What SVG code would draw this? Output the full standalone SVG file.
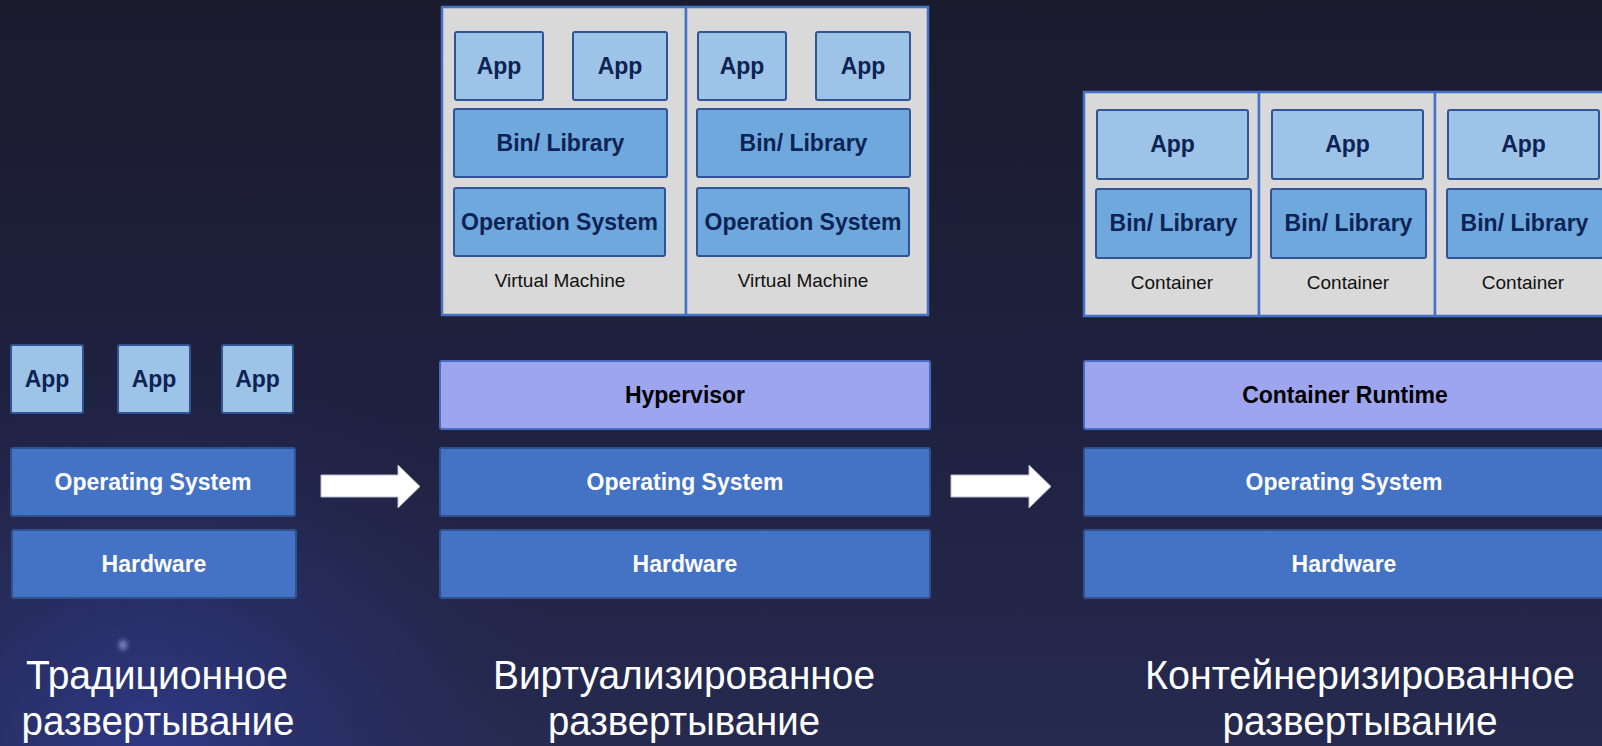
<svg xmlns="http://www.w3.org/2000/svg" width="1602" height="746" viewBox="0 0 1602 746">
  <defs>
    <linearGradient id="bg" x1="0" y1="0" x2="0" y2="1">
      <stop offset="0" stop-color="#1a1b2d"/>
      <stop offset="0.55" stop-color="#1f2140"/>
      <stop offset="1" stop-color="#262a50"/>
    </linearGradient>
    <radialGradient id="glow" cx="150" cy="760" r="420" gradientUnits="userSpaceOnUse">
      <stop offset="0" stop-color="#2f3a8a" stop-opacity="0.95"/>
      <stop offset="0.5" stop-color="#2a3272" stop-opacity="0.5"/>
      <stop offset="1" stop-color="#262a50" stop-opacity="0"/>
    </radialGradient>
    <filter id="blur" x="-2" y="-2" width="5" height="5">
      <feGaussianBlur stdDeviation="2.5"/>
    </filter>
    <style>
      .app { fill: #9dc3e6; stroke: #2f5597; stroke-width: 2; }
      .mid { fill: #6fa8dc; stroke: #2f5597; stroke-width: 2; }
      .base { fill: #4472c4; stroke: #2f528f; stroke-width: 2; }
      .rt { fill: #9da5ee; stroke: #4a69c0; stroke-width: 2; }
      .panel { fill: #d9d9d9; stroke: #4472c4; stroke-width: 2.5; }
      .lbl { font-family: "Liberation Sans", Arial, sans-serif; font-weight: bold; font-size: 23px; text-anchor: middle; }
      .dark { fill: #0d2354; }
      .white { fill: #ffffff; }
      .black { fill: #000000; }
      .small { font-family: "Liberation Sans", Arial, sans-serif; font-size: 19px; fill: #111111; text-anchor: middle; }
      .cap { font-family: "Liberation Sans", Arial, sans-serif; font-size: 40px; fill: #ffffff; text-anchor: middle; }
      .arrow { fill: #ffffff; stroke: #b9bccb; stroke-width: 1; }
    </style>
  </defs>

  <rect x="0" y="0" width="1602" height="746" fill="url(#bg)"/>
  <rect x="0" y="0" width="1602" height="746" fill="url(#glow)"/>
  <ellipse cx="123" cy="645" rx="4" ry="5" fill="#9aa0d8" opacity="0.8" filter="url(#blur)"/>

  <!-- Traditional deployment -->
  <g id="trad-app1"><rect class="app" x="11" y="345" width="72" height="68" rx="2"/><text class="lbl dark" x="47" y="387">App</text></g>
  <g id="trad-app2"><rect class="app" x="118" y="345" width="72" height="68" rx="2"/><text class="lbl dark" x="154" y="387">App</text></g>
  <g id="trad-app3"><rect class="app" x="222" y="345" width="71" height="68" rx="2"/><text class="lbl dark" x="257.5" y="387">App</text></g>
  <g id="trad-os"><rect class="base" x="11" y="448" width="284" height="68" rx="2"/><text class="lbl white" x="153" y="490">Operating System</text></g>
  <g id="trad-hw"><rect class="base" x="12" y="530" width="284" height="68" rx="2"/><text class="lbl white" x="154" y="572">Hardware</text></g>
  <g id="trad-caption">
    <text class="cap" x="157" y="689" textLength="262" lengthAdjust="spacingAndGlyphs">Традиционное</text>
    <text class="cap" x="158" y="735" textLength="273" lengthAdjust="spacingAndGlyphs">развертывание</text>
  </g>

  <!-- Virtualized deployment -->
  <g id="vm1">
    <rect class="panel" x="442" y="7" width="244" height="308"/>
    <rect class="app" x="455" y="32" width="88" height="68" rx="2"/><text class="lbl dark" x="499" y="74">App</text>
    <rect class="app" x="573" y="32" width="94" height="68" rx="2"/><text class="lbl dark" x="620" y="74">App</text>
    <rect class="mid" x="454" y="109" width="213" height="68" rx="2"/><text class="lbl dark" x="560.5" y="151">Bin/ Library</text>
    <rect class="mid" x="454" y="188" width="211" height="68" rx="2"/><text class="lbl dark" x="559.5" y="230">Operation System</text>
    <text class="small" x="560" y="287">Virtual Machine</text>
  </g>
  <g id="vm2">
    <rect class="panel" x="686" y="7" width="242" height="308"/>
    <rect class="app" x="698" y="32" width="88" height="68" rx="2"/><text class="lbl dark" x="742" y="74">App</text>
    <rect class="app" x="816" y="32" width="94" height="68" rx="2"/><text class="lbl dark" x="863" y="74">App</text>
    <rect class="mid" x="697" y="109" width="213" height="68" rx="2"/><text class="lbl dark" x="803.5" y="151">Bin/ Library</text>
    <rect class="mid" x="697" y="188" width="212" height="68" rx="2"/><text class="lbl dark" x="803" y="230">Operation System</text>
    <text class="small" x="803" y="287">Virtual Machine</text>
  </g>
  <g id="virt-hypervisor"><rect class="rt" x="440" y="361" width="490" height="68" rx="2"/><text class="lbl black" x="685" y="403">Hypervisor</text></g>
  <g id="virt-os"><rect class="base" x="440" y="448" width="490" height="68" rx="2"/><text class="lbl white" x="685" y="490">Operating System</text></g>
  <g id="virt-hw"><rect class="base" x="440" y="530" width="490" height="68" rx="2"/><text class="lbl white" x="685" y="572">Hardware</text></g>
  <g id="virt-caption">
    <text class="cap" x="684" y="689" textLength="382" lengthAdjust="spacingAndGlyphs">Виртуализированное</text>
    <text class="cap" x="684" y="735" textLength="272" lengthAdjust="spacingAndGlyphs">развертывание</text>
  </g>

  <!-- Containerized deployment -->
  <g id="ct1">
    <rect class="panel" x="1084" y="92" width="175" height="224"/>
    <rect class="app" x="1097" y="110" width="151" height="69" rx="2"/><text class="lbl dark" x="1172.5" y="152">App</text>
    <rect class="mid" x="1096" y="189" width="155" height="69" rx="2"/><text class="lbl dark" x="1173.5" y="231">Bin/ Library</text>
    <text class="small" x="1172" y="289">Container</text>
  </g>
  <g id="ct2">
    <rect class="panel" x="1259" y="92" width="176" height="224"/>
    <rect class="app" x="1272" y="110" width="151" height="69" rx="2"/><text class="lbl dark" x="1347.5" y="152">App</text>
    <rect class="mid" x="1271" y="189" width="155" height="69" rx="2"/><text class="lbl dark" x="1348.5" y="231">Bin/ Library</text>
    <text class="small" x="1348" y="289">Container</text>
  </g>
  <g id="ct3">
    <rect class="panel" x="1435" y="92" width="180" height="224"/>
    <rect class="app" x="1448" y="110" width="151" height="69" rx="2"/><text class="lbl dark" x="1523.5" y="152">App</text>
    <rect class="mid" x="1447" y="189" width="156" height="69" rx="2"/><text class="lbl dark" x="1524.5" y="231">Bin/ Library</text>
    <text class="small" x="1523" y="289">Container</text>
  </g>
  <g id="cont-runtime"><rect class="rt" x="1084" y="361" width="522" height="68" rx="2"/><text class="lbl black" x="1345" y="403">Container Runtime</text></g>
  <g id="cont-os"><rect class="base" x="1084" y="448" width="522" height="68" rx="2"/><text class="lbl white" x="1344" y="490">Operating System</text></g>
  <g id="cont-hw"><rect class="base" x="1084" y="530" width="522" height="68" rx="2"/><text class="lbl white" x="1344" y="572">Hardware</text></g>
  <g id="cont-caption">
    <text class="cap" x="1360" y="689" textLength="430" lengthAdjust="spacingAndGlyphs">Контейнеризированное</text>
    <text class="cap" x="1360" y="735" textLength="275" lengthAdjust="spacingAndGlyphs">развертывание</text>
  </g>

  <!-- Connectors -->
  <g id="connectors">
    <polygon class="arrow" points="321,475 398,475 398,465 420,486.5 398,508 398,497 321,497"/>
    <polygon class="arrow" points="951,475 1029,475 1029,465 1051,486.5 1029,508 1029,497 951,497"/>
  </g>
</svg>
